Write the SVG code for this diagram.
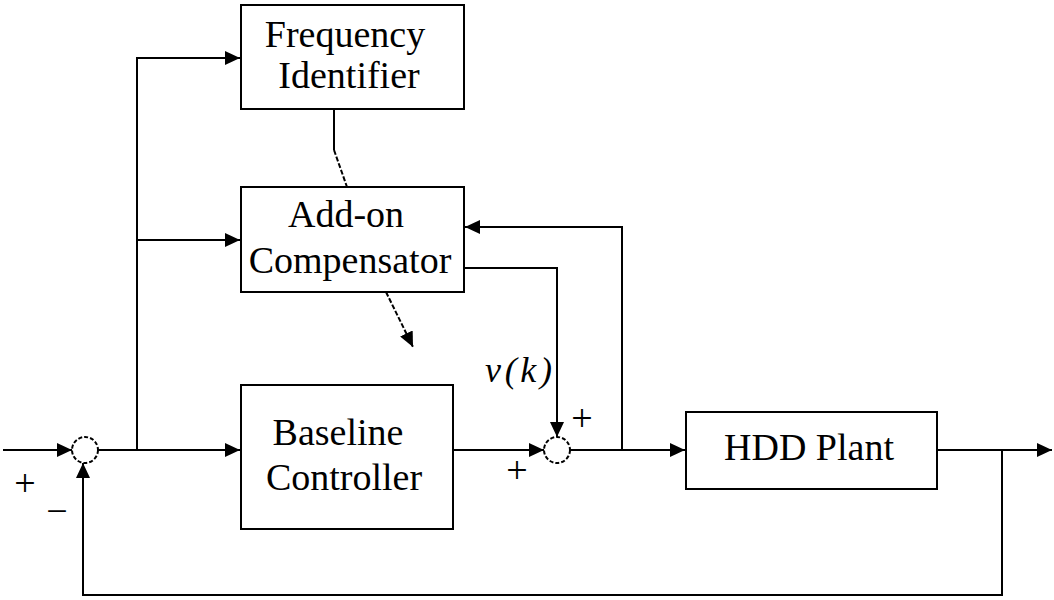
<svg xmlns="http://www.w3.org/2000/svg" width="1054" height="600" viewBox="0 0 1054 600">
<defs>
<style>
.box{fill:#fff;stroke:#000;stroke-width:2}
.lbl{font-family:"Liberation Serif","Times New Roman",serif;font-size:38px;text-anchor:middle;fill:#000}
.sign{font-family:"Liberation Serif","Times New Roman",serif;font-size:38px;text-anchor:middle;fill:#000}
.ln{fill:none;stroke:#000;stroke-width:2}
.dash{fill:none;stroke:#000;stroke-width:2;stroke-dasharray:5 2}
.sum{fill:#fff;stroke:#000;stroke-width:2;stroke-dasharray:4 2}
</style>
<marker id="arr" markerUnits="userSpaceOnUse" markerWidth="16" markerHeight="14" refX="15" refY="7" orient="auto">
<path d="M0,0 L15,7 L0,14 Z" fill="#000"/>
</marker>
</defs>
<rect width="1054" height="600" fill="#fff"/>
<g id="connectors">
<path class="ln" d="M3,450 H72" marker-end="url(#arr)"/>
<path class="ln" d="M98,450 H240" marker-end="url(#arr)"/>
<path class="ln" d="M137,450 V58 H240" marker-end="url(#arr)"/>
<path class="ln" d="M137,240 H240" marker-end="url(#arr)"/>
<path class="ln" d="M453,450 H544" marker-end="url(#arr)"/>
<path class="ln" d="M570,450 H685" marker-end="url(#arr)"/>
<path class="ln" d="M622,450 V227 H465" marker-end="url(#arr)"/>
<path class="ln" d="M464,268 H557 V437" marker-end="url(#arr)"/>
<path class="ln" d="M937,450 H1052" marker-end="url(#arr)"/>
<path class="ln" d="M1002,450 V595 H83 V463" marker-end="url(#arr)"/>
<path class="ln" d="M334,109 V150"/>
<path class="dash" d="M334,150 L347,187"/>
<path class="dash" d="M386,292 L413,347" marker-end="url(#arr)"/>
</g>
<g id="sum1"><circle class="sum" cx="85" cy="450" r="13"/></g>
<g id="sum2"><circle class="sum" cx="557" cy="450" r="13"/></g>
<g id="freq">
<rect class="box" x="241" y="5" width="223" height="104"/>
<text class="lbl" x="345" y="47">Frequency</text>
<text class="lbl" x="349" y="88">Identifier</text>
</g>
<g id="addon">
<rect class="box" x="241" y="187" width="223" height="105"/>
<text class="lbl" x="346" y="227">Add-on</text>
<text class="lbl" x="350" y="273">Compensator</text>
</g>
<g id="baseline">
<rect class="box" x="241" y="385" width="212" height="144"/>
<text class="lbl" x="338" y="445">Baseline</text>
<text class="lbl" x="344" y="490">Controller</text>
</g>
<g id="plant">
<rect class="box" x="686" y="412" width="251" height="77"/>
<text class="lbl" x="809" y="460">HDD Plant</text>
</g>
<g id="labels">
<text class="sign" x="25" y="496">+</text>
<text class="sign" x="57" y="524">−</text>
<text class="sign" x="582" y="431">+</text>
<text class="sign" x="517" y="483">+</text>
<text x="485" y="382" font-family="Liberation Serif, Times New Roman, serif" font-style="italic" font-size="36" textLength="67" lengthAdjust="spacing">v(k)</text>
</g>
</svg>
